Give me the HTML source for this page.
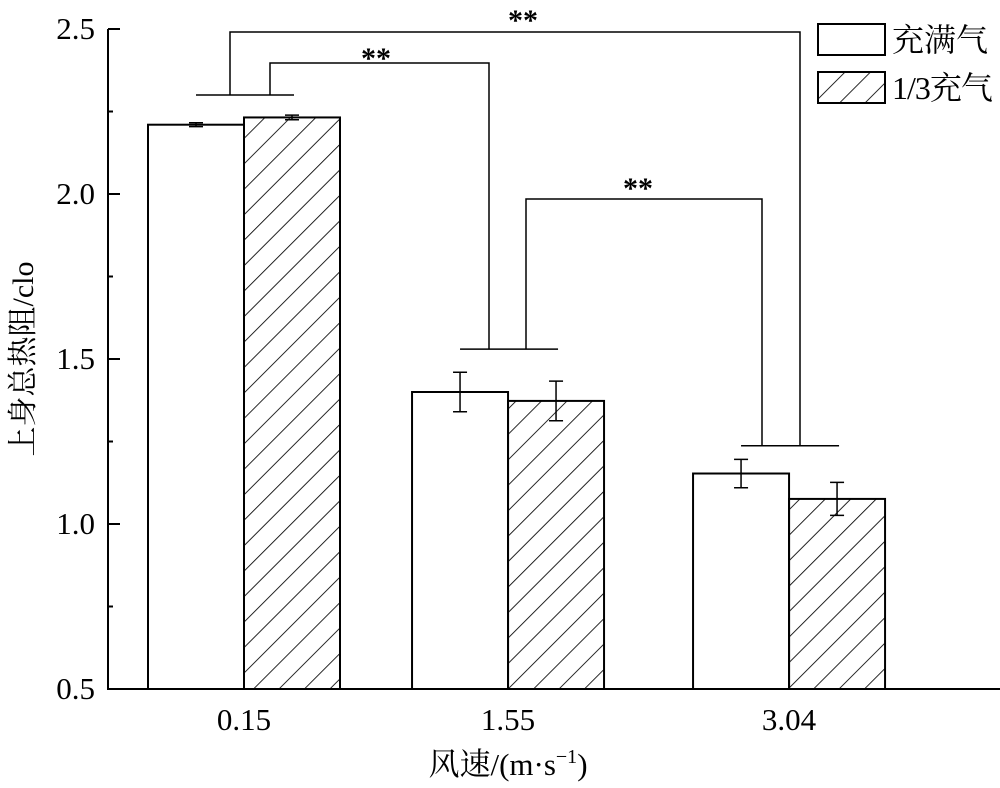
<!DOCTYPE html>
<html><head><meta charset="utf-8"><style>
body{margin:0;background:#fff}
svg text{font-family:"Liberation Serif","Noto Serif CJK SC","Noto Sans CJK SC",serif;fill:#000}
</style></head><body>
<svg id="chart" width="1000" height="783" xmlns="http://www.w3.org/2000/svg">
<defs>
<pattern id="hatch" patternUnits="userSpaceOnUse" width="18" height="18" patternTransform="rotate(45)">
<line x1="0" y1="0" x2="0" y2="18" stroke="#000" stroke-width="1.7"/>
</pattern>
</defs>
<g id="g"></g>
</svg>
<script>
const categories=[0.15,1.55,3.04];
const catLabels=["0.15","1.55","3.04"];
const fullVals=[2.21,1.40,1.153];
const fullErr=[0.006,0.06,0.043];
const thirdVals=[2.232,1.373,1.076];
const thirdErr=[0.007,0.06,0.05];
const yTicks=[0.5,1.0,1.5,2.0,2.5];
const yTickLabels=["0.5","1.0","1.5","2.0","2.5"];
const sigLevels=[2.30,1.53,1.237];
const NS="http://www.w3.org/2000/svg";
const g=document.getElementById('g');
const X=v=>244+(v-0.15)*188.6;
const Y=v=>689-(v-0.5)*330;
const BW=96;
function el(tag,attrs,parent){const e=document.createElementNS(NS,tag);for(const k in attrs)e.setAttribute(k,attrs[k]);(parent||g).appendChild(e);return e;}
let a=el('line',{x1:108,y1:Y(2.5),x2:108,y2:Y(0.5)+1,stroke:'#000','stroke-width':2});


a=el('line',{x1:107,y1:Y(0.5),x2:1000,y2:Y(0.5),stroke:'#000','stroke-width':2});


yTicks.forEach((t,i)=>{
 const tk=el('line',{x1:108,y1:Y(t),x2:120,y2:Y(t),stroke:'#000','stroke-width':2});
 
 
 if(i<yTicks.length-1){const m=el('line',{x1:108,y1:Y(t+0.25),x2:113,y2:Y(t+0.25),stroke:'#000','stroke-width':2});
 
 }
 const tx=el('text',{x:95,y:Y(t)+10,'text-anchor':'end','font-size':31});
 tx.textContent=yTickLabels[i];
 
 
});
categories.forEach((c,i)=>{
 const cx=X(c);
 const tx=el('text',{x:cx,y:730,'text-anchor':'middle','font-size':31});
 tx.textContent=catLabels[i];
 
 
 [[fullVals,fullErr,cx-BW,'#fff','bar-full'],[thirdVals,thirdErr,cx,'url(#hatch)','bar-third']].forEach(([vals,errs,x0,fill,nm])=>{
  const b=el('rect',{x:x0,y:Y(vals[i]),width:BW,height:Y(0.5)-Y(vals[i]),fill:fill,stroke:'#000','stroke-width':2});
  
  
  const ex=x0+BW/2,t=Y(vals[i]+errs[i]),bt=Y(vals[i]-errs[i]);
  const e=el('path',{d:`M${ex},${t}V${bt}M${ex-7},${t}H${ex+7}M${ex-7},${bt}H${ex+7}`,stroke:'#000','stroke-width':1.5,fill:'none'});
  
  
 });
});
categories.forEach((c,i)=>{
 const cx=X(c),yb=Y(sigLevels[i]);
 const l=el('line',{x1:cx-48,y1:yb,x2:cx+50,y2:yb,stroke:'#000','stroke-width':1.5});
 
 
});
function bracket(i,j,xa,xb,ytop,sx,sy){
 const p=el('path',{d:`M${xa},${Y(sigLevels[i])}V${ytop}H${xb}V${Y(sigLevels[j])}`,stroke:'#000','stroke-width':1.5,fill:'none'});
 
 
 const s=el('text',{x:sx,y:sy,'text-anchor':'middle','font-size':30,'font-weight':'bold'});
 s.textContent='**';
 
 
}
bracket(0,2,230,800,32,523,30);
bracket(0,1,270,489,63,376,68);
bracket(1,2,526,762,199,638,198);
let r=el('rect',{x:818,y:24,width:67,height:31,fill:'#fff',stroke:'#000','stroke-width':2});


r=el('rect',{x:818,y:72,width:67,height:31,fill:'url(#hatch)',stroke:'#000','stroke-width':2});


let t=el('text',{x:892,y:51,'font-size':32});t.textContent='充满气';


t=el('text',{x:892,y:99,'font-size':32,'letter-spacing':-1});t.textContent='1/3充气';


t=el('text',{x:0,y:0,'font-size':30,'text-anchor':'middle',transform:'translate(33,359) rotate(-90)'});t.textContent='上身总热阻/clo';


t=el('text',{x:508,y:775,'font-size':31,'text-anchor':'middle'});t.innerHTML='风速/(m·s<tspan font-size="20" dy="-12">−1</tspan><tspan dy="12">)</tspan>';


</script>
</body></html>
